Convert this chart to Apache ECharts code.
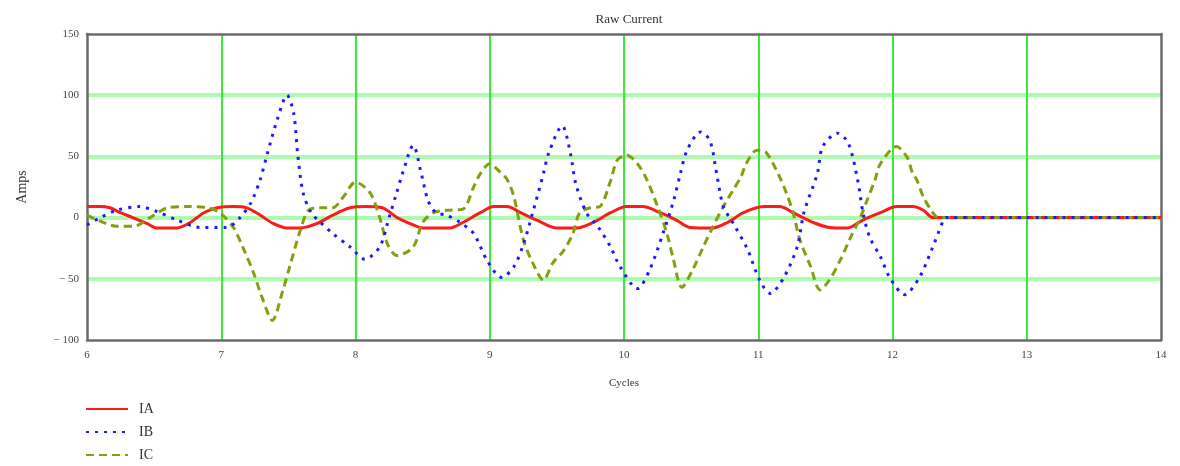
<!DOCTYPE html>
<html>
<head>
<meta charset="utf-8">
<script src="https://cdn.jsdelivr.net/npm/echarts@6/dist/echarts.min.js"></script>
<style>
  html, body { margin: 0; padding: 0; background: #fff; }
  #main { width: 1180px; height: 466px; }
</style>
</head>
<body>
<div id="main"></div>
<script>
// values, [cycle, amps]
var IA = [
  [6.0, 9], [6.1, 9], [6.17, 8], [6.25, 4], [6.34, 0], [6.45, -5], [6.52, -8.5], [6.67, -8.5], [6.77, -4],
  [6.87, 4], [6.97, 8], [7.09, 9], [7.19, 8], [7.29, 2], [7.39, -5], [7.49, -8.5], [7.59, -8.5], [7.71, -5],
  [7.83, 2], [7.96, 8], [8.08, 9], [8.2, 8], [8.31, 0], [8.43, -6], [8.5, -8.5], [8.7, -8.5], [8.8, -4],
  [8.93, 4], [9.03, 9], [9.13, 9], [9.23, 4], [9.35, -2], [9.5, -8.5], [9.65, -8.5], [9.77, -4],
  [9.9, 4], [10.02, 9], [10.14, 9], [10.27, 4], [10.39, -2], [10.49, -8], [10.66, -8.5], [10.77, -4],
  [10.89, 4], [11.04, 9], [11.16, 9], [11.26, 4], [11.41, -4], [11.53, -8], [11.66, -8.5], [11.78, -2],
  [11.91, 4], [12.03, 9], [12.15, 9], [12.23, 6], [12.3, 0], [12.4, 0], [13, 0], [14, 0]
];
var IB = [
  [6.0, -6], [6.1, 0], [6.22, 6], [6.39, 9], [6.52, 5], [6.67, -2], [6.84, -8], [7.04, -8], [7.14, 0],
  [7.22, 12], [7.29, 31], [7.34, 51], [7.42, 81], [7.49, 100], [7.54, 85], [7.57, 51], [7.61, 20],
  [7.67, 4], [7.74, -4], [7.83, -13], [7.96, -24], [8.07, -34], [8.18, -24], [8.25, 0], [8.3, 18],
  [8.35, 36], [8.43, 59], [8.49, 36], [8.54, 14], [8.6, 4], [8.68, 2], [8.78, -4], [8.88, -13],
  [8.98, -35], [9.09, -49], [9.18, -40], [9.25, -22], [9.32, 4], [9.4, 36], [9.44, 53], [9.54, 75],
  [9.6, 53], [9.64, 28], [9.72, 4], [9.81, -8], [9.9, -24], [9.97, -40], [10.1, -58], [10.19, -43],
  [10.29, -13], [10.37, 14], [10.42, 36], [10.47, 55], [10.57, 70], [10.64, 63], [10.69, 36],
  [10.74, 9], [10.81, -4], [10.92, -26], [11.01, -51], [11.09, -62], [11.19, -49], [11.29, -24],
  [11.34, 4], [11.44, 36], [11.48, 58], [11.59, 69], [11.67, 61], [11.74, 31], [11.78, 4],
  [11.83, -16], [11.91, -32], [11.98, -49], [12.09, -63], [12.2, -49], [12.3, -24], [12.38, -2],
  [12.4, 0], [13, 0], [14, 0]
];
var IC = [
  [6.0, 2], [6.1, -3], [6.22, -7], [6.35, -7], [6.47, 0], [6.6, 8], [6.75, 9], [6.9, 8], [6.99, 4],
  [7.09, -8], [7.16, -24], [7.24, -45], [7.31, -67], [7.38, -84], [7.46, -59], [7.51, -40],
  [7.59, -10], [7.65, 6], [7.74, 8], [7.83, 8], [7.91, 17], [8.0, 29], [8.11, 20], [8.18, 0],
  [8.24, -22], [8.31, -31], [8.43, -24], [8.5, -4], [8.58, 4], [8.68, 6], [8.8, 7], [8.88, 25],
  [8.93, 36], [9.0, 44], [9.07, 38], [9.13, 31], [9.18, 17], [9.25, -18], [9.32, -37], [9.4, -51],
  [9.47, -37], [9.55, -27], [9.62, -13], [9.67, 4], [9.75, 8], [9.82, 9], [9.9, 30], [9.95, 47],
  [10.02, 51], [10.1, 44], [10.17, 31], [10.25, 9], [10.32, -13], [10.37, -35], [10.43, -57],
  [10.51, -43], [10.59, -24], [10.66, -8], [10.74, 9], [10.81, 22], [10.87, 33], [10.91, 44],
  [10.99, 55], [11.06, 53], [11.16, 33], [11.21, 20], [11.26, 4], [11.31, -18], [11.39, -40],
  [11.46, -59], [11.53, -51], [11.61, -35], [11.68, -18], [11.76, 0], [11.81, 14], [11.87, 31],
  [11.91, 44], [12.03, 58], [12.11, 49], [12.15, 36], [12.18, 31], [12.23, 17], [12.3, 4],
  [12.34, 0], [13, 0], [14, 0]
];
var seriesNames = ['IA', 'IB', 'IC'];
var xTicks = [6, 14, 1];       // min, max, step
var yTicks = [-100, 150, 50];

var serif = '"Liberation Serif", "DejaVu Serif", serif';
var chart = echarts.init(document.getElementById('main'));

chart.setOption({
    animation: false,
    backgroundColor: '#fff',
    title: {
        text: 'Raw Current',
        left: 624,
        top: 8,
        textAlign: 'center',
        textStyle: { fontFamily: serif, fontSize: 13, fontWeight: 'normal', color: '#333' }
    },
    legend: {
        data: seriesNames,
        orient: 'vertical',
        left: 85,
        top: 402,
        padding: 0,
        itemWidth: 42,
        itemHeight: 14,
        itemGap: 9,
        itemStyle: { opacity: 0 },
        textStyle: { fontFamily: serif, fontSize: 14, color: '#333', padding: [0, 0, 0, 6] }
    },
    grid: {
        left: 87, right: 19, top: 34, bottom: 126,
        outerBoundsMode: 'none'
    },
    xAxis: [{
        type: 'value',
        min: xTicks[0], max: xTicks[1], interval: xTicks[2],
        name: 'Cycles',
        nameLocation: 'middle',
        nameGap: 38,
        nameTextStyle: { fontFamily: serif, fontSize: 11, color: '#333' },
        axisLine: { show: true, onZero: false, lineStyle: { color: '#6b6b6b', width: 2.5 } },
        axisTick: { show: false },
        axisLabel: { fontFamily: serif, fontSize: 11, color: '#444', margin: 10 },
        splitLine: { show: true, showMinLine: false, showMaxLine: false, lineStyle: { color: '#3ce83c', width: 2 } }
    }, {
        // top frame line
        type: 'value', position: 'top',
        min: xTicks[0], max: xTicks[1],
        axisLine: { show: true, onZero: false, lineStyle: { color: '#6b6b6b', width: 2.5 } },
        axisTick: { show: false }, axisLabel: { show: false }, splitLine: { show: false }
    }],
    yAxis: [{
        type: 'value',
        min: yTicks[0], max: yTicks[1], interval: yTicks[2],
        name: 'Amps',
        nameLocation: 'middle',
        nameGap: 58,
        nameRotate: 90,
        nameTextStyle: { fontFamily: serif, fontSize: 14, color: '#333' },
        axisLine: { show: true, onZero: false, lineStyle: { color: '#6b6b6b', width: 2.5 } },
        axisTick: { show: false },
        axisLabel: {
            fontFamily: serif, fontSize: 11, color: '#444', margin: 8,
            formatter: function (v) { return v < 0 ? '\u2212 ' + (-v) : String(v); }
        },
        splitLine: { show: true, showMinLine: false, showMaxLine: false, lineStyle: { color: '#adfcad', width: 4 } }
    }, {
        // right frame line
        type: 'value', position: 'right',
        min: yTicks[0], max: yTicks[1],
        axisLine: { show: true, onZero: false, lineStyle: { color: '#6b6b6b', width: 2.5 } },
        axisTick: { show: false }, axisLabel: { show: false }, splitLine: { show: false }
    }],
    series: [
        {
            name: 'IA', type: 'line', data: IA, symbol: 'none', smooth: 0.3, z: 2,
            lineStyle: { color: '#ff1a1a', width: 3 },
            itemStyle: { color: '#ff1a1a' }
        },
        {
            name: 'IB', type: 'line', data: IB, symbol: 'none', smooth: 0.3, z: 4,
            lineStyle: { color: '#1a1aff', width: 3, type: [3, 6] },
            itemStyle: { color: '#1a1aff' }
        },
        {
            name: 'IC', type: 'line', data: IC, symbol: 'none', smooth: 0.3, z: 3,
            lineStyle: { color: '#80a010', width: 3, type: [8, 5] },
            itemStyle: { color: '#80a010' }
        }
    ]
});
</script>
</body>
</html>
